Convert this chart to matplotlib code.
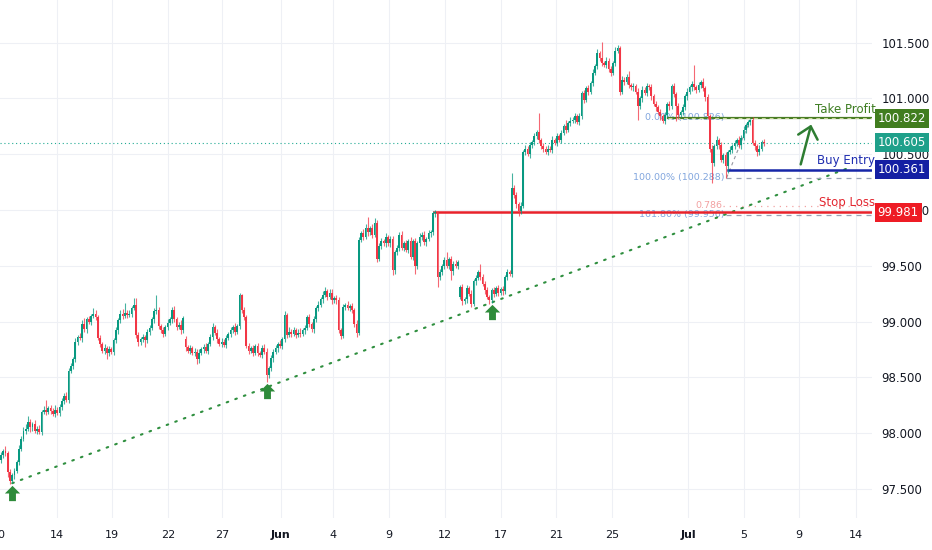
import numpy as np
import matplotlib.pyplot as plt
from matplotlib.transforms import blended_transform_factory
from matplotlib.ticker import FormatStrFormatter

# closing prices, one per bar
closes = [
    97.80, 97.84, 97.82, 97.65, 97.57, 97.62, 97.66, 97.74, 97.86, 97.95,
    98.02, 98.04, 98.10, 98.05, 98.08, 98.02, 98.04, 98.01, 98.19, 98.21,
    98.19, 98.22, 98.20, 98.17, 98.21, 98.18, 98.23, 98.29, 98.33, 98.30,
    98.56, 98.60, 98.66, 98.82, 98.86, 98.85, 98.98, 98.93, 99.02, 99.00,
    99.05, 99.07, 99.04, 98.85, 98.80, 98.74, 98.76, 98.72, 98.75, 98.73,
    98.83, 98.92, 99.01, 99.07, 99.05, 99.08, 99.06, 99.07, 99.12, 99.15,
    98.88, 98.82, 98.84, 98.86, 98.83, 98.91, 98.94, 99.02, 99.09, 99.10,
    98.96, 98.92, 98.89, 98.95, 98.99, 99.02, 99.10, 99.02, 98.95, 98.97,
    98.92, 99.03, 98.77, 98.74, 98.76, 98.72, 98.73, 98.66, 98.72, 98.75,
    98.77, 98.74, 98.80, 98.86, 98.95, 98.90, 98.84, 98.80, 98.82, 98.79,
    98.85, 98.89, 98.92, 98.95, 98.91, 98.96, 99.24, 99.10, 99.04, 98.78,
    98.74, 98.76, 98.72, 98.78, 98.72, 98.70, 98.76, 98.73, 98.52, 98.58,
    98.67, 98.73, 98.76, 98.80, 98.78, 98.84, 99.06, 98.88, 98.91, 98.89,
    98.92, 98.88, 98.90, 98.89, 98.92, 98.94, 99.04, 98.98, 98.93, 99.02,
    99.12, 99.15, 99.20, 99.24, 99.27, 99.22, 99.26, 99.19, 99.21, 99.19,
    98.92, 98.87, 99.13, 99.15, 99.12, 99.14, 99.10, 98.98, 98.90, 99.73,
    99.79, 99.76, 99.84, 99.80, 99.84, 99.78, 99.88, 99.56, 99.68, 99.72,
    99.70, 99.76, 99.70, 99.74, 99.46, 99.62, 99.66, 99.78, 99.66, 99.70,
    99.64, 99.72, 99.58, 99.72, 99.50, 99.70, 99.76, 99.78, 99.71, 99.74,
    99.79, 99.80, 99.97, 99.98, 99.40, 99.44, 99.50, 99.55, 99.50, 99.56,
    99.45, 99.52, 99.50, 99.53, 99.31, 99.18, 99.20, 99.30, 99.25, 99.16,
    99.36, 99.39, 99.44, 99.40, 99.34, 99.28, 99.22, 99.19, 99.28, 99.25,
    99.30, 99.26, 99.29, 99.27, 99.40, 99.44, 99.43, 100.20, 100.13, 100.05,
    99.99, 100.04, 100.52, 100.55, 100.50, 100.58, 100.61, 100.66, 100.70, 100.63,
    100.57, 100.55, 100.52, 100.55, 100.54, 100.63, 100.60, 100.66, 100.63, 100.69,
    100.75, 100.72, 100.78, 100.80, 100.81, 100.84, 100.79, 100.84, 101.05, 100.99,
    101.09, 101.06, 101.14, 101.23, 101.29, 101.41, 101.36, 101.32, 101.30, 101.34,
    101.26, 101.23, 101.32, 101.43, 101.45, 101.06, 101.17, 101.15, 101.19, 101.12,
    101.10, 101.11, 101.06, 100.93, 101.00, 101.08, 101.05, 101.11, 101.10, 101.02,
    100.95, 100.92, 100.88, 100.84, 100.80, 100.85, 100.95, 100.93, 101.11, 101.04,
    100.93, 100.85, 100.88, 100.92, 101.02, 101.06, 101.10, 101.13, 101.10, 101.08,
    101.12, 101.15, 101.09, 101.01, 100.84, 100.55, 100.42, 100.57, 100.63, 100.58,
    100.45, 100.49, 100.39, 100.52, 100.54, 100.57, 100.60, 100.63, 100.58, 100.65,
    100.72, 100.76, 100.79, 100.81, 100.60, 100.57, 100.52, 100.55, 100.61, 100.605,
]

# wick lengths above / below the body
upper_wick = [
    0.03, 0.02, 0.04, 0.02, 0.03, 0.02, 0.03, 0.02, 0.03, 0.02,
    0.03, 0.04, 0.05, 0.03, 0.02, 0.04, 0.02, 0.03, 0.02, 0.03,
    0.09, 0.02, 0.03, 0.02, 0.04, 0.02, 0.03, 0.02, 0.03, 0.04,
    0.02, 0.03, 0.02, 0.03, 0.02, 0.04, 0.03, 0.05, 0.02, 0.03,
    0.02, 0.05, 0.03, 0.02, 0.03, 0.02, 0.04, 0.02, 0.03, 0.02,
    0.02, 0.03, 0.02, 0.03, 0.04, 0.09, 0.02, 0.03, 0.02, 0.06,
    0.06, 0.03, 0.02, 0.03, 0.02, 0.02, 0.03, 0.02, 0.03, 0.14,
    0.03, 0.02, 0.03, 0.02, 0.03, 0.02, 0.03, 0.04, 0.02, 0.03,
    0.04, 0.02, 0.03, 0.02, 0.03, 0.02, 0.03, 0.02, 0.03, 0.02,
    0.03, 0.04, 0.02, 0.03, 0.04, 0.02, 0.03, 0.02, 0.03, 0.02,
    0.03, 0.02, 0.03, 0.02, 0.04, 0.02, 0.02, 0.01, 0.03, 0.02,
    0.03, 0.02, 0.03, 0.02, 0.03, 0.02, 0.03, 0.04, 0.03, 0.02,
    0.03, 0.02, 0.03, 0.02, 0.03, 0.02, 0.03, 0.02, 0.04, 0.02,
    0.03, 0.02, 0.03, 0.04, 0.02, 0.03, 0.02, 0.03, 0.02, 0.03,
    0.02, 0.03, 0.02, 0.03, 0.04, 0.02, 0.03, 0.03, 0.02, 0.03,
    0.03, 0.02, 0.03, 0.02, 0.03, 0.02, 0.03, 0.02, 0.03, 0.03,
    0.02, 0.04, 0.03, 0.10, 0.02, 0.03, 0.05, 0.03, 0.02, 0.03,
    0.02, 0.03, 0.02, 0.03, 0.03, 0.02, 0.03, 0.02, 0.03, 0.02,
    0.03, 0.02, 0.04, 0.02, 0.03, 0.02, 0.03, 0.02, 0.03, 0.02,
    0.03, 0.02, 0.02, 0.02, 0.01, 0.03, 0.02, 0.03, 0.07, 0.02,
    0.03, 0.02, 0.03, 0.02, 0.02, 0.03, 0.02, 0.03, 0.02, 0.03,
    0.02, 0.03, 0.02, 0.08, 0.03, 0.02, 0.03, 0.02, 0.02, 0.03,
    0.02, 0.03, 0.02, 0.03, 0.02, 0.03, 0.02, 0.13, 0.02, 0.03,
    0.02, 0.03, 0.02, 0.03, 0.02, 0.03, 0.02, 0.03, 0.02, 0.17,
    0.02, 0.03, 0.02, 0.03, 0.02, 0.03, 0.02, 0.03, 0.02, 0.03,
    0.02, 0.06, 0.02, 0.03, 0.02, 0.03, 0.02, 0.03, 0.02, 0.03,
    0.02, 0.03, 0.02, 0.03, 0.02, 0.03, 0.02, 0.15, 0.02, 0.03,
    0.02, 0.03, 0.02, 0.03, 0.03, 0.02, 0.03, 0.02, 0.03, 0.06,
    0.02, 0.03, 0.02, 0.03, 0.02, 0.03, 0.02, 0.03, 0.02, 0.03,
    0.02, 0.03, 0.02, 0.03, 0.02, 0.03, 0.02, 0.03, 0.02, 0.03,
    0.02, 0.03, 0.02, 0.03, 0.02, 0.03, 0.02, 0.03, 0.17, 0.02,
    0.03, 0.02, 0.03, 0.02, 0.03, 0.02, 0.03, 0.02, 0.03, 0.02,
    0.03, 0.02, 0.03, 0.02, 0.03, 0.02, 0.03, 0.02, 0.03, 0.02,
    0.03, 0.02, 0.02, 0.01, 0.02, 0.03, 0.02, 0.03, 0.02, 0.03,
]

lower_wick = [
    0.03, 0.02, 0.03, 0.04, 0.03, 0.02, 0.03, 0.02, 0.03, 0.02,
    0.02, 0.03, 0.02, 0.04, 0.03, 0.02, 0.03, 0.02, 0.03, 0.02,
    0.03, 0.02, 0.03, 0.02, 0.03, 0.02, 0.03, 0.02, 0.03, 0.02,
    0.03, 0.02, 0.03, 0.02, 0.03, 0.02, 0.03, 0.02, 0.03, 0.02,
    0.03, 0.02, 0.03, 0.02, 0.03, 0.02, 0.03, 0.06, 0.03, 0.02,
    0.03, 0.02, 0.03, 0.02, 0.03, 0.02, 0.03, 0.02, 0.03, 0.02,
    0.03, 0.04, 0.03, 0.02, 0.06, 0.02, 0.03, 0.02, 0.03, 0.02,
    0.03, 0.02, 0.03, 0.02, 0.03, 0.02, 0.03, 0.02, 0.03, 0.02,
    0.03, 0.02, 0.03, 0.02, 0.03, 0.02, 0.03, 0.04, 0.03, 0.02,
    0.03, 0.02, 0.03, 0.02, 0.03, 0.02, 0.03, 0.02, 0.03, 0.02,
    0.03, 0.02, 0.03, 0.02, 0.03, 0.02, 0.03, 0.02, 0.03, 0.02,
    0.03, 0.02, 0.03, 0.02, 0.03, 0.02, 0.03, 0.02, 0.06, 0.03,
    0.02, 0.03, 0.02, 0.03, 0.02, 0.03, 0.02, 0.03, 0.02, 0.03,
    0.02, 0.03, 0.02, 0.03, 0.02, 0.03, 0.02, 0.03, 0.02, 0.03,
    0.02, 0.03, 0.02, 0.03, 0.02, 0.03, 0.02, 0.03, 0.02, 0.03,
    0.02, 0.03, 0.02, 0.03, 0.02, 0.03, 0.02, 0.03, 0.04, 0.02,
    0.02, 0.03, 0.02, 0.03, 0.02, 0.03, 0.02, 0.03, 0.02, 0.03,
    0.02, 0.03, 0.02, 0.03, 0.04, 0.03, 0.02, 0.03, 0.02, 0.03,
    0.02, 0.03, 0.02, 0.03, 0.07, 0.03, 0.02, 0.03, 0.02, 0.03,
    0.02, 0.03, 0.02, 0.03, 0.09, 0.03, 0.02, 0.03, 0.02, 0.03,
    0.08, 0.03, 0.02, 0.03, 0.02, 0.03, 0.02, 0.03, 0.02, 0.03,
    0.02, 0.03, 0.02, 0.03, 0.02, 0.03, 0.02, 0.03, 0.02, 0.03,
    0.02, 0.03, 0.02, 0.03, 0.02, 0.03, 0.02, 0.03, 0.02, 0.03,
    0.04, 0.03, 0.02, 0.03, 0.02, 0.03, 0.02, 0.03, 0.02, 0.03,
    0.02, 0.03, 0.02, 0.03, 0.02, 0.03, 0.02, 0.03, 0.02, 0.03,
    0.02, 0.03, 0.02, 0.03, 0.02, 0.03, 0.02, 0.03, 0.02, 0.03,
    0.02, 0.03, 0.02, 0.03, 0.02, 0.03, 0.02, 0.03, 0.02, 0.03,
    0.02, 0.03, 0.02, 0.03, 0.02, 0.03, 0.02, 0.03, 0.02, 0.03,
    0.02, 0.03, 0.02, 0.12, 0.02, 0.03, 0.02, 0.03, 0.02, 0.03,
    0.02, 0.03, 0.02, 0.03, 0.02, 0.03, 0.02, 0.03, 0.02, 0.03,
    0.13, 0.03, 0.02, 0.03, 0.02, 0.03, 0.02, 0.03, 0.02, 0.03,
    0.02, 0.03, 0.02, 0.03, 0.02, 0.03, 0.18, 0.03, 0.02, 0.03,
    0.02, 0.03, 0.10, 0.06, 0.02, 0.03, 0.02, 0.03, 0.02, 0.03,
    0.02, 0.03, 0.02, 0.03, 0.02, 0.03, 0.04, 0.03, 0.02, 0.03,
]

first_open = 97.76
gap_opens = {82: 98.84, 204: 99.22}   # weekend gaps

date_ticks = [24.9, 49.3, 74.2, 98.2, 124.4, 147.6, 172.4, 197.3,
              222.2, 246.7, 271.6, 305.3, 330.2, 354.7, 380.0]
date_labels = ['14', '19', '22', '27', 'Jun', '4', '9', '12',
               '17', '21', '25', 'Jul', '5', '9', '14']
price_ticks = [97.5, 98.0, 98.5, 99.0, 99.5, 100.0, 100.5, 101.0, 101.5]

take_profit = 100.822
buy_entry = 100.361
stop_loss = 99.981
last_price = 100.605
fib_levels = [100.826, 100.288, 99.956]
fib_labels = ['0.00% (100.826)', '100.00% (100.288)', '161.80% (99.956)']
fib_786 = 100.04
pivots = [5, 118, 218]   # bars marked with up arrows

GREEN = '#089981'
RED = '#f23645'

closes = np.array(closes)
opens = np.concatenate([[first_open], closes[:-1]])
for k, v in gap_opens.items():
    opens[k] = v
highs = np.maximum(opens, closes) + np.array(upper_wick)
lows = np.minimum(opens, closes) - np.array(lower_wick)
idx = np.arange(len(closes))
up = closes >= opens

fig = plt.figure(figsize=(9.32, 5.5), dpi=100)
fig.patch.set_facecolor('white')
ax = fig.add_axes([0, 32 / 550, 872 / 932, 518 / 550])
x_max = 387.1
ax.set_xlim(-0.444, x_max)
ax.set_ylim(97.238, 101.883)
for s in ax.spines.values():
    s.set_visible(False)

# grid + right price scale
ax.set_xticks(date_ticks)
ax.set_yticks(price_ticks)
ax.grid(color='#eef0f5', lw=0.8)
ax.set_axisbelow(True)
ax.tick_params(axis='x', length=0, labelbottom=False)
ax.yaxis.tick_right()
ax.yaxis.set_major_formatter(FormatStrFormatter('%.3f'))
ax.tick_params(axis='y', length=0, pad=7, labelsize=8.5, labelcolor='#131722')

# candles
body_bot = np.minimum(opens, closes)
body_h = np.maximum(np.abs(closes - opens), 0.008)
for mask, col in [(up, GREEN), (~up, RED)]:
    ax.vlines(idx[mask], lows[mask], highs[mask], color=col, lw=0.8,
              alpha=0.75, zorder=3)
    ax.bar(idx[mask], body_h[mask], bottom=body_bot[mask], width=0.85,
           color=col, lw=0, zorder=3)

# rising trendline through the pivot lows
p0, p2 = pivots[0], pivots[2]
slope = (lows[p2] - lows[p0]) / (p2 - p0)
tx = np.array([p0, 377])
ax.plot(tx, lows[p0] + slope * (tx - p0), color='#2f8f3f', lw=1.5,
        linestyle=(0, (0.8, 3.6)), dash_capstyle='round', zorder=2)

# up arrows under the pivots
arrow = [(-0.45, -1), (0.45, -1), (0.45, 0), (1, 0), (0, 1), (-1, 0), (-0.45, 0), (-0.45, -1)]
for p in pivots:
    ax.plot(p, lows[p] - 0.085, marker=arrow, markersize=11, color='#2e8b3a',
            markeredgewidth=0, zorder=4)

# last price line
ax.axhline(last_price, color='#22ab94', lw=0.8, linestyle=(0, (1, 2.5)), zorder=2)

# fib levels
for lvl in fib_levels[1:]:
    ax.plot([322, x_max], [lvl, lvl], color='#9aa3b5', lw=0.9,
            linestyle=(0, (4, 4)), zorder=2)
ax.plot([321, x_max], [fib_786, fib_786], color='#f2a3a3', lw=0.9,
        linestyle=(0, (1, 4)), zorder=2)
ax.plot([322.5, 333], [100.29, 100.81], color='#9598a1', lw=0.8,
        linestyle=(0, (3, 3)), zorder=2)
for lvl, lab in zip(fib_levels, fib_labels):
    ax.text(321.5, lvl, lab, ha='right', va='center', fontsize=6.8,
            color='#6b96d8', alpha=0.85, zorder=1)
ax.text(320.5, fib_786, '0.786', ha='right', va='center', fontsize=6.8,
        color='#f2a0a0', zorder=1)

# trade levels
ax.plot([296.4, x_max], [take_profit, take_profit], color='#4a7d25', lw=1.6, zorder=2)
ax.plot([296.4, x_max], [take_profit, take_profit], color='#c9d99a', lw=0.7,
        linestyle=(0, (4, 4)), zorder=2)
ax.plot([323, x_max], [buy_entry, buy_entry], color='#1626a8', lw=1.8, zorder=2)
ax.plot([192.4, x_max], [stop_loss, stop_loss], color='#e8222b', lw=1.8, zorder=2)

ax.annotate('', xy=(360.4, 100.79), xytext=(355.1, 100.385),
            arrowprops=dict(arrowstyle='->, head_length=0.5, head_width=0.45',
                            color='#2e7d32', lw=1.8, mutation_scale=16))

tr = blended_transform_factory(ax.transAxes, ax.transData)
for lvl, name, col in [(take_profit, 'Take Profit', '#3e7d22'),
                       (buy_entry, 'Buy Entry', '#1f2db0'),
                       (stop_loss, 'Stop Loss', '#e3262f')]:
    ax.text(1.004, lvl + 0.025, name, transform=tr, ha='right', va='bottom',
            fontsize=8.5, color=col, clip_on=False, zorder=5)

# price boxes on the scale
for lvl, col in [(take_profit, '#417d1f'), (last_price, '#1fa08a'),
                 (buy_entry, '#141fa3'), (stop_loss, '#ee1c25')]:
    ax.text(1.0063, lvl, f'{lvl:.3f}', transform=tr, ha='left', va='center',
            fontsize=8.5, color='white', clip_on=False, zorder=6,
            bbox=dict(boxstyle='square,pad=0.25', fc=col, ec='none'))

# date labels
trx = blended_transform_factory(ax.transData, ax.transAxes)
ax.text(-0.9, -17 / 518, '10', transform=trx, ha='center', va='center',
        fontsize=8, color='#131722', clip_on=False)
for pos, lab in zip(date_ticks, date_labels):
    ax.text(pos, -17 / 518, lab, transform=trx, ha='center', va='center',
            fontsize=8, color='#131722', clip_on=False,
            fontweight='bold' if lab in ('Jun', 'Jul') else 'normal')

fig.savefig('out.png', dpi=100)
